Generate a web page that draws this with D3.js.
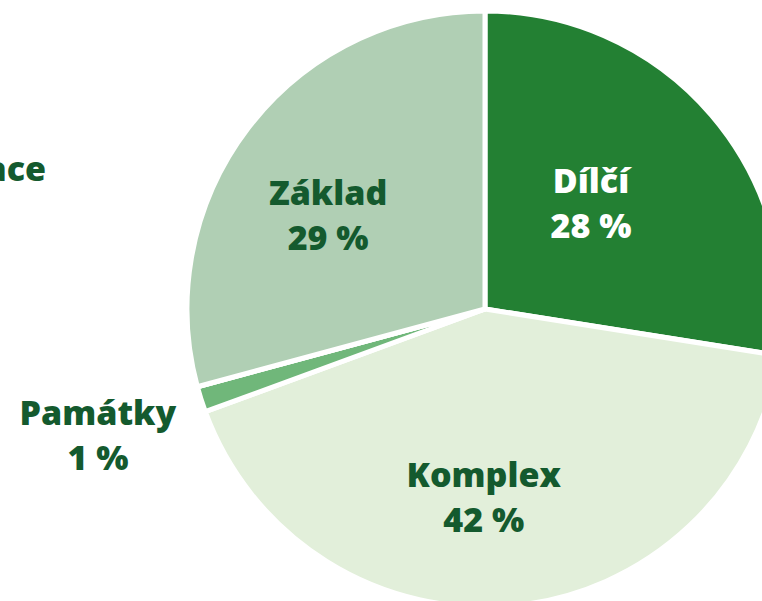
<!DOCTYPE html>
<html>
<head>
<meta charset="utf-8">
<script src="https://cdn.jsdelivr.net/npm/d3@7"></script>
<style>
  body { margin: 0; background: #fff; }
  svg { display: block; }
  text { font-family: "Open Sans", sans-serif; font-weight: 800; }
</style>
</head>
<body>
<svg width="762" height="601"></svg>
<script>
// categories + shares
var categories = ["Dílčí", "Komplex", "Památky", "Renovace", "Základ"];
var shares = [27.5, 41.9, 1.4, 0, 29.2];
var colors = ["#238033", "#e2efda", "#70b77a", "#ffffff", "#b0cfb4"];
var labelColors = ["#ffffff", "#145a2e", "#145a2e", "#145a2e", "#145a2e"];
// label placement: radius and angle shift (degrees) from slice middle
var labelRadius = [157, 178, 404, 0, 188];
var labelShift = [-7, 6, 1, 0, -4];

var svg = d3.select("svg");
var cx = 485, cy = 309, R = 298;

var pie = d3.pie().sort(null).value(function (d) { return d; });
var arcs = pie(shares);
var arc = d3.arc().innerRadius(0).outerRadius(R);

var g = svg.append("g").attr("transform", "translate(" + cx + "," + cy + ")");

g.selectAll("path")
    .data(arcs)
    .join("path")
    .attr("d", arc)
    .attr("fill", function (d, i) { return colors[i]; })
    .attr("stroke", "#fff")
    .attr("stroke-width", 5)
    .attr("stroke-linejoin", "round");

var pct = function (v) { return Math.round(v) + " %"; };

arcs.forEach(function (d, i) {
    if (shares[i] === 0) return;
    var a = (d.startAngle + d.endAngle) / 2 + labelShift[i] * Math.PI / 180;
    var x = Math.sin(a) * labelRadius[i], y = -Math.cos(a) * labelRadius[i];
    var t = g.append("text")
        .attr("text-anchor", "middle")
        .attr("fill", labelColors[i])
        .style("font-size", "34px");
    t.append("tspan").attr("x", x).attr("y", y).text(categories[i]);
    t.append("tspan").attr("x", x).attr("y", y + 45).text(pct(shares[i]));
});

// the zero slice label sits outside, mostly cut off at the left edge
svg.append("text")
    .attr("x", 46).attr("y", 181)
    .attr("text-anchor", "end")
    .attr("fill", "#145a2e")
    .style("font-size", "34px")
    .text(categories[3]);
</script>
</body>
</html>
